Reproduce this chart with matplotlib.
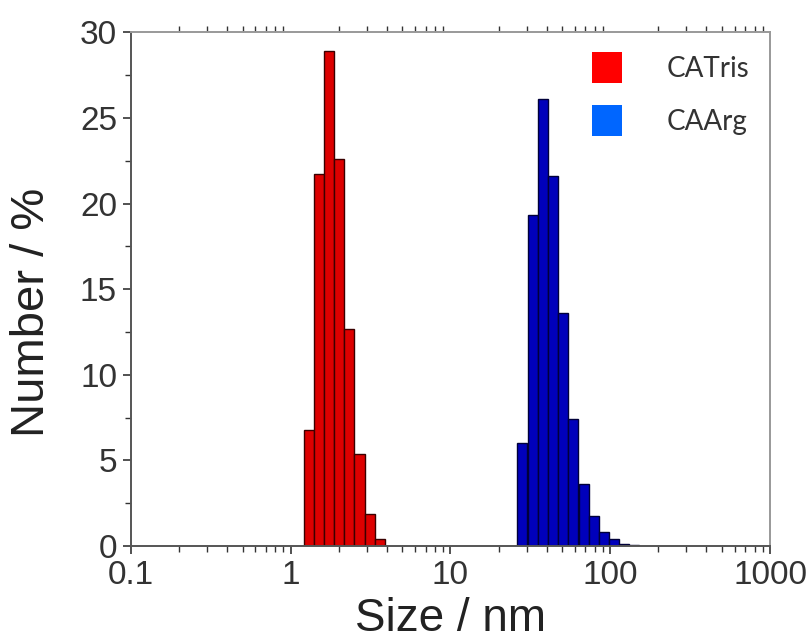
import matplotlib.pyplot as plt
from matplotlib.patches import Patch
from matplotlib.ticker import LogLocator, MultipleLocator
import numpy as np

plt.rcParams['font.family'] = ['Liberation Sans', 'DejaVu Sans']

# DLS number distributions (log-spaced size classes, nm)
tris_size = [1.294, 1.499, 1.736, 2.010, 2.328, 2.696, 3.122, 3.615]
tris_number = [6.8, 21.7, 28.9, 22.6, 12.7, 5.4, 1.9, 0.4]

arg_size = [28.21, 32.67, 37.84, 43.82, 50.75, 58.77, 68.06, 78.82,
            91.28, 105.7, 122.4, 141.8]
arg_number = [6.0, 19.3, 26.1, 21.6, 13.6, 7.4, 3.6, 1.75,
              0.85, 0.4, 0.15, 0.05]

labels = ['CATris', 'CAArg']
xticks = [0.1, 1, 10, 100, 1000]
xticklabels = ['0.1', '1', '10', '100', '1000']

step = 10 ** 0.0628  # ratio between neighbouring size classes


def log_bars(ax, centers, heights, face, edge):
    centers = np.asarray(centers)
    left = centers / np.sqrt(step)
    width = centers * np.sqrt(step) - left
    ax.bar(left, heights, width=width, align='edge', color=face,
           edgecolor=edge, linewidth=1.0, zorder=2)


fig = plt.figure(figsize=(8.08, 6.44), dpi=100)
ax = fig.add_axes([0.162, 0.152, 0.791, 0.798])

log_bars(ax, tris_size, tris_number, '#dd0000', '#3a0000')
log_bars(ax, arg_size, arg_number, '#0000bb', '#00003a')

ax.set_xscale('log')
ax.set_xlim(0.1, 1000)
ax.set_ylim(0, 30)
ax.set_xticks(xticks)
ax.set_xticklabels(xticklabels)
ax.xaxis.set_minor_locator(LogLocator(base=10, subs=np.arange(2, 10)))
ax.xaxis.set_minor_formatter(plt.NullFormatter())
ax.yaxis.set_major_locator(MultipleLocator(5))
ax.yaxis.set_minor_locator(MultipleLocator(2.5))

ax.tick_params(axis='both', which='major', labelsize=24, colors='#333333',
               direction='out', length=6, width=1.2, pad=4)
ax.tick_params(axis='both', which='minor', direction='out', length=4,
               width=1.0, colors='#333333')
ax.tick_params(axis='x', which='both', top=True)
ax.tick_params(axis='x', which='major', top=False)

for side in ['left', 'bottom']:
    ax.spines[side].set_color('#555555')
    ax.spines[side].set_linewidth(1.4)
for side in ['top', 'right']:
    ax.spines[side].set_color('#999999')
    ax.spines[side].set_linewidth(1.4)

ax.set_xlabel('Size / nm', fontsize=33, color='#222222', labelpad=4)
ax.set_ylabel('Number / %', fontsize=34, color='#222222')
ax.yaxis.set_label_coords(-0.12, 0.455)

handles = [Patch(facecolor='#ff0000', edgecolor='none'),
           Patch(facecolor='#0066ff', edgecolor='none')]
leg = ax.legend(handles, labels, loc='upper left',
                bbox_to_anchor=(0.721, 0.962), frameon=False,
                prop={'family': 'Lato', 'size': 20},
                handlelength=1.08, handleheight=1.35,
                handletextpad=1.6, labelspacing=0.8,
                borderaxespad=0, borderpad=0, labelcolor='#333333')

fig.savefig('out.png', dpi=100)
